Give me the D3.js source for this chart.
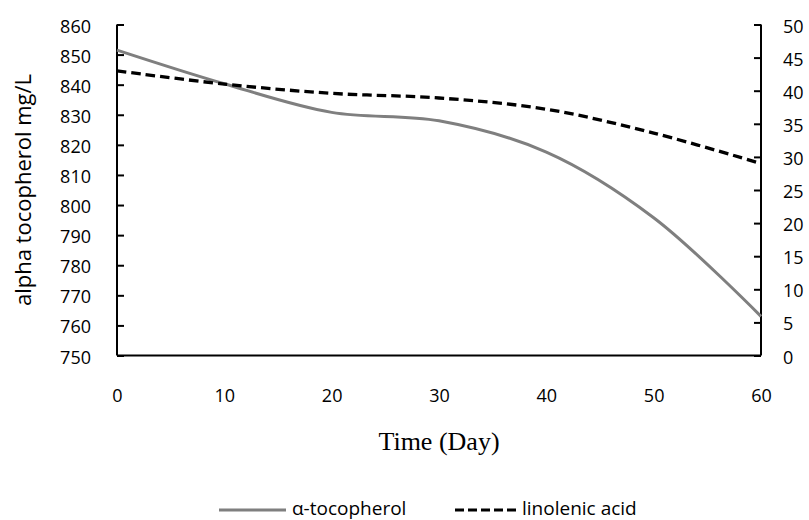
<!DOCTYPE html>
<html>
<head>
<meta charset="utf-8">
<script src="https://cdn.jsdelivr.net/npm/d3@7"></script>
<style>
  body { margin: 0; background: #fff; }
  text { font-family: "Open Sans", sans-serif; }
</style>
</head>
<body>
<div id="chart"></div>
<script>
// values
var days = [0, 10, 20, 30, 40, 50, 60]
var tocopherol = [851.5, 840.3, 830.8, 828.0, 817.6, 795.8, 763.0]
var linolenic = [43.0, 41.0, 39.6, 38.9, 37.2, 33.6, 29.0]
var leftTicks = [750, 760, 770, 780, 790, 800, 810, 820, 830, 840, 850, 860]
var rightTicks = [0, 5, 10, 15, 20, 25, 30, 35, 40, 45, 50]
var xTicks = [0, 10, 20, 30, 40, 50, 60]

var W = 809, H = 520
var margin = { top: 24.5, left: 117, bottom: 164.5, right: 48 }
var width = W - margin.left - margin.right
var height = H - margin.top - margin.bottom

var svg = d3.select("#chart").append("svg")
  .attr("width", W)
  .attr("height", H)

var g = svg.append("g")
  .attr("transform", "translate(" + margin.left + "," + margin.top + ")")

var xScale = d3.scaleLinear().domain([0, 60]).range([0, width])
var yLeft = d3.scaleLinear().domain([750, 860]).range([height, 0])
var yRight = d3.scaleLinear().domain([0, 50]).range([height, 0])

// axes, ticks pointing into the plot
var leftAxis = d3.axisLeft(yLeft).tickValues(leftTicks).tickSize(-7)
var rightAxis = d3.axisRight(yRight).tickValues(rightTicks).tickSize(-7)
var bottomAxis = d3.axisBottom(xScale).tickValues(xTicks).tickSize(0)

function styleAxis(sel) {
  sel.select(".domain").attr("stroke", "#000").attr("stroke-width", 2)
  sel.selectAll(".tick line").attr("stroke", "#000").attr("stroke-width", 2)
  sel.selectAll(".tick text")
    .attr("fill", "#000")
    .style("font-family", "'Open Sans', sans-serif")
    .style("font-size", "18px")
}

var gl = g.append("g").call(leftAxis).call(styleAxis)
gl.select(".domain").attr("d", "M0," + height + "V0")
gl.selectAll(".tick text").attr("x", -26).attr("dy", "0.42em")

var gr = g.append("g").attr("transform", "translate(" + width + ",0)").call(rightAxis).call(styleAxis)
gr.select(".domain").attr("d", "M0," + height + "V0")
gr.selectAll(".tick text").attr("x", 22).attr("dy", "0.42em")

var gb = g.append("g").attr("transform", "translate(0," + height + ")").call(bottomAxis).call(styleAxis)
gb.select(".domain").attr("d", "M0,0H" + width)
gb.selectAll(".tick text").attr("y", 46).attr("dy", null)

// lines
var lineLeft = d3.line()
  .x(function (d, i) { return xScale(days[i]) })
  .y(function (d) { return yLeft(d) })
  .curve(d3.curveCatmullRom.alpha(0.5))

var lineRight = d3.line()
  .x(function (d, i) { return xScale(days[i]) })
  .y(function (d) { return yRight(d) })
  .curve(d3.curveCatmullRom.alpha(0.5))

g.append("path")
  .datum(tocopherol)
  .attr("d", lineLeft)
  .attr("fill", "none")
  .attr("stroke", "#7f7f7f")
  .attr("stroke-width", 3)

g.append("path")
  .datum(linolenic)
  .attr("d", lineRight)
  .attr("fill", "none")
  .attr("stroke", "#000")
  .attr("stroke-width", 3.3)
  .attr("stroke-dasharray", "9.5,5")

// axis titles
svg.append("text")
  .attr("transform", "translate(31,190) rotate(-90)")
  .attr("text-anchor", "middle")
  .style("font-size", "22px")
  .attr("fill", "#000")
  .text("alpha tocopherol mg/L")

svg.append("text")
  .attr("x", 439)
  .attr("y", 450)
  .attr("text-anchor", "middle")
  .style("font-family", "'Liberation Serif', 'Times New Roman', serif")
  .style("font-size", "26px")
  .attr("fill", "#000")
  .text("Time (Day)")

// legend
var legend = svg.append("g")
legend.append("line")
  .attr("x1", 219).attr("x2", 286).attr("y1", 510).attr("y2", 510)
  .attr("stroke", "#7f7f7f").attr("stroke-width", 3)
legend.append("text")
  .attr("x", 292).attr("y", 514.5)
  .style("font-size", "19px")
  .attr("fill", "#000")
  .text("α-tocopherol")
legend.append("line")
  .attr("x1", 455).attr("x2", 516).attr("y1", 510).attr("y2", 510)
  .attr("stroke", "#000").attr("stroke-width", 3)
  .attr("stroke-dasharray", "9,4")
legend.append("text")
  .attr("x", 522).attr("y", 514.5)
  .style("font-size", "19px")
  .attr("fill", "#000")
  .text("linolenic acid")
</script>
</body>
</html>
